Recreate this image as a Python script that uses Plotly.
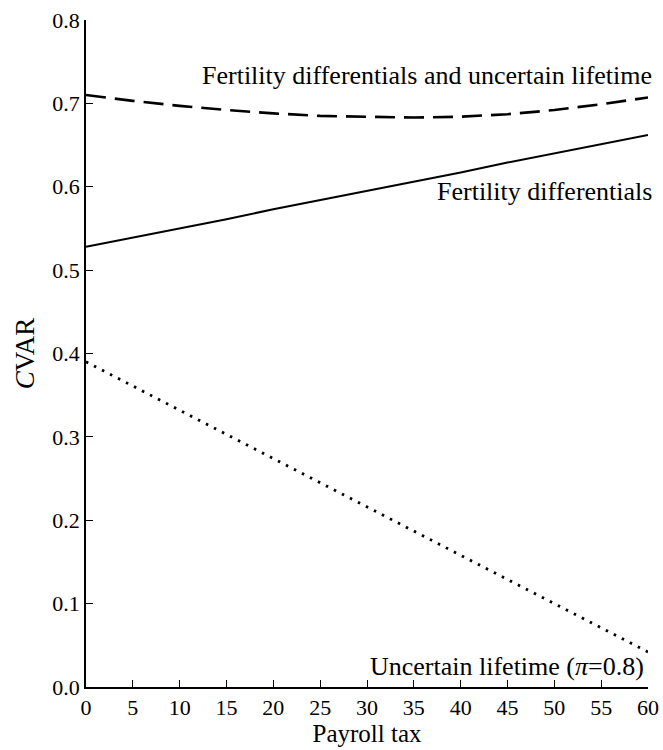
import plotly.graph_objects as go

payroll_tax = [0, 5, 10, 15, 20, 25, 30, 35, 40, 45, 50, 55, 60]
fert_uncertain = [0.710, 0.703, 0.697, 0.692, 0.688, 0.685, 0.684, 0.683, 0.684, 0.687, 0.692, 0.699, 0.707]
fert_only = [0.528, 0.539, 0.550, 0.561, 0.573, 0.584, 0.595, 0.606, 0.617, 0.629, 0.640, 0.651, 0.662]
uncertain_only = [0.390, 0.361, 0.332, 0.303, 0.274, 0.245, 0.216, 0.187, 0.158, 0.129, 0.100, 0.071, 0.042]

x_ticks = [0, 5, 10, 15, 20, 25, 30, 35, 40, 45, 50, 55, 60]
y_ticks = [0.0, 0.1, 0.2, 0.3, 0.4, 0.5, 0.6, 0.7, 0.8]

FONT = "Liberation Serif, Times New Roman, serif"

fig = go.Figure()
fig.add_trace(go.Scatter(x=payroll_tax, y=fert_uncertain, mode="lines",
                         line=dict(color="black", width=2.6, dash="20px,9px"), showlegend=False))
fig.add_trace(go.Scatter(x=payroll_tax, y=fert_only, mode="lines",
                         line=dict(color="black", width=2), showlegend=False))
fig.add_trace(go.Scatter(x=payroll_tax, y=uncertain_only, mode="lines",
                         line=dict(color="black", width=2.8, dash="2.5px,6.5px"), showlegend=False))

ann_font = dict(family=FONT, size=26, color="black")
fig.add_annotation(x=60, y=0.733, xref="x", yref="y", text="Fertility differentials and uncertain lifetime",
                   showarrow=False, xanchor="right", yanchor="middle", xshift=6, font=ann_font)
fig.add_annotation(x=60, y=0.594, xref="x", yref="y", text="Fertility differentials",
                   showarrow=False, xanchor="right", yanchor="middle", xshift=6, font=ann_font)
fig.add_annotation(x=60, y=0.025, xref="x", yref="y", text="Uncertain lifetime (<i>π</i>=0.8)",
                   showarrow=False, xanchor="right", yanchor="middle", xshift=-2, font=ann_font)

fig.update_layout(
    width=663, height=750,
    margin=dict(l=86, r=15, t=20, b=63),
    paper_bgcolor="white", plot_bgcolor="white",
    font=dict(family=FONT, size=22, color="black"),
)
fig.update_xaxes(range=[0, 60], tickvals=x_ticks, ticktext=[str(v) for v in x_ticks], automargin=False,
                 showgrid=False, zeroline=False, showline=True, linecolor="black", linewidth=1.5,
                 ticks="inside", ticklen=7, tickcolor="black", tickwidth=1.2,
                 title=dict(text="Payroll tax", font=dict(family=FONT, size=25), standoff=4))
fig.update_yaxes(range=[0, 0.8], tickvals=y_ticks, ticktext=[f"{v:.1f}" for v in y_ticks], automargin=False,
                 showgrid=False, zeroline=False, showline=True, linecolor="black", linewidth=1.5,
                 ticks="inside", ticklen=7, tickcolor="black", tickwidth=1.2,
                 title=dict(text="<i>C</i>VAR", font=dict(family=FONT, size=27), standoff=10))

fig.write_html("out.html")
